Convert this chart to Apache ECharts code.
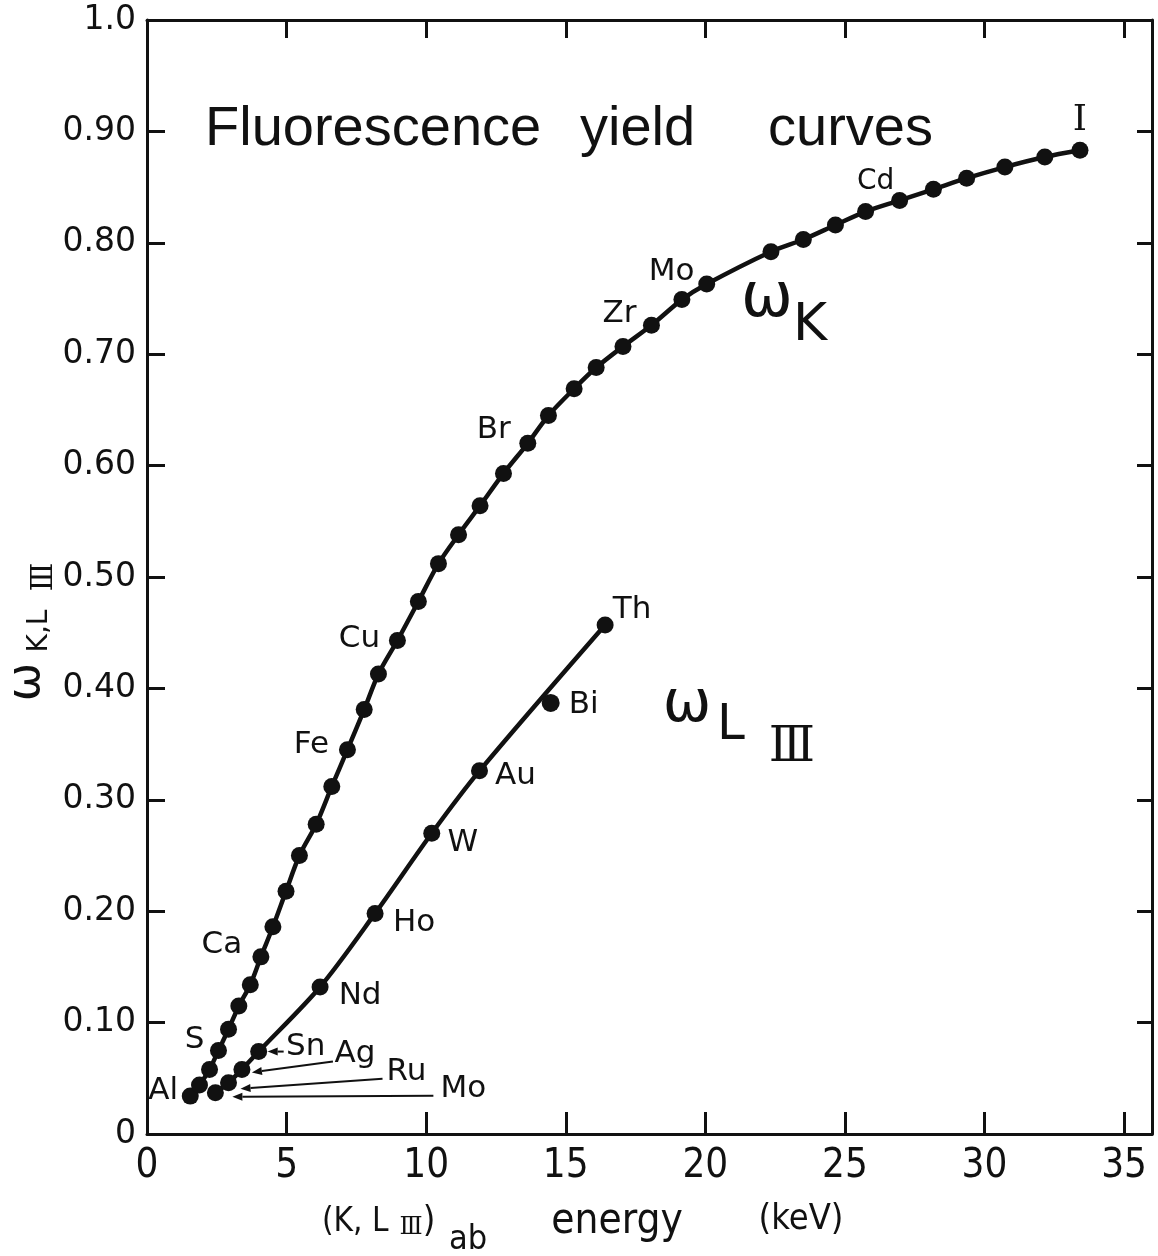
<!DOCTYPE html>
<html>
<head>
<meta charset="utf-8">
<script src="https://cdn.jsdelivr.net/npm/echarts@6/dist/echarts.min.js"></script>
<style>
  html, body { margin: 0; padding: 0; background: #fff; }
  #chart { width: 1158px; height: 1256px; }
</style>
</head>
<body>
<div id="chart"></div>
<script>
// ---------------- DATA ----------------
const xTickLabels = ['0', '5', '10', '15', '20', '25', '30', '35'];
const yTickLabels = ['0', '0.10', '0.20', '0.30', '0.40', '0.50', '0.60', '0.70', '0.80', '0.90', '1.0'];

// K-shell fluorescence yield curve (omega_K)
const kElements = ['Al','Si','P','S','Cl','Ar','K','Ca','Sc','Ti','V','Cr','Mn','Fe','Co','Ni','Cu','Zn','Ga','Ge',
                   'As','Se','Br','Kr','Rb','Sr','Y','Zr','Nb','Mo','Ru','Rh','Pd','Ag','Cd','In','Sn','Sb','Te','I'];
const kEnergy = [1.55, 1.88, 2.24, 2.56, 2.92, 3.29, 3.70, 4.08, 4.51, 4.98, 5.46, 6.06, 6.62, 7.18, 7.78, 8.29, 8.97, 9.72, 10.44, 11.16,
                 11.93, 12.77, 13.64, 14.38, 15.30, 16.09, 17.05, 18.07, 19.16, 20.05, 22.35, 23.51, 24.66, 25.74, 26.96, 28.17, 29.36, 30.73, 32.16, 33.42];
const kYield = [0.034, 0.044, 0.058, 0.075, 0.094, 0.115, 0.134, 0.159, 0.186, 0.218, 0.250, 0.278, 0.312, 0.345, 0.381, 0.413, 0.443, 0.478, 0.512, 0.538,
                0.564, 0.593, 0.620, 0.645, 0.669, 0.688, 0.707, 0.726, 0.749, 0.763, 0.792, 0.803, 0.816, 0.828, 0.838, 0.848, 0.858, 0.868, 0.877, 0.883];
const kLabeled = ['Al', 'S', 'Ca', 'Fe', 'Cu', 'Br', 'Zr', 'Mo', 'Cd', 'I'];

// L_III-shell fluorescence yield curve (omega_L3)
const l3Elements = ['Mo', 'Ru', 'Ag', 'Sn', 'Nd', 'Ho', 'W', 'Au', 'Th'];
const l3Energy = [2.45, 2.92, 3.40, 4.00, 6.20, 8.17, 10.20, 11.91, 16.41];
const l3Yield = [0.037, 0.046, 0.058, 0.074, 0.132, 0.198, 0.270, 0.326, 0.457];
const offCurveElements = ['Bi'];
const offCurveEnergy = [14.46];
const offCurveYield = [0.387];

// ---------------- STYLE (label offsets in pixels, relative to the dot) ----------------
const kLabelOffset = {
  Al: [-27, -5], S: [-24, -10], Ca: [-39, -12], Fe: [-36, -5], Cu: [-38, -2],
  Br: [-34, -13], Zr: [-32, -11], Mo: [-35, -12], Cd: [-24, -19], I: [0, -30]
};
const l3LabelOffset = {
  Mo: [248, -4], Ru: [178, -11], Ag: [113, -15], Sn: [47, -5],
  Nd: [40, 9], Ho: [39, 10], W: [31, 10], Au: [36, 5], Th: [27, -15], Bi: [33, 2]
};
// arrows for the crowded low-energy L_III points: [tipDx, tipDy, tailDx, tailDy] relative to the dot
const l3Arrows = {
  Sn: [9, 0, 25, 0], Ag: [10, 3, 91, -8], Ru: [12, 6, 154, -4], Mo: [17, 4, 218, 3]
};

const SANS = "'DejaVu Sans', 'Liberation Sans', sans-serif";
const TITLE = "'Liberation Sans', 'DejaVu Sans', sans-serif";
const NARROW = "'Liberation Sans Narrow', 'DejaVu Sans Condensed', 'Liberation Sans', sans-serif";
const SERIF = "'DejaVu Serif', 'Liberation Serif', serif";
const INK = '#111';

function labelFor(name, offsets) {
  const off = offsets[name];
  if (!off) return undefined;
  return {
    show: true, formatter: name, position: 'inside', offset: off,
    color: INK, fontSize: name === 'I' ? 36 : (name === 'Cd' ? 28 : 31),
    fontFamily: name === 'I' ? SERIF : SANS, align: 'center', verticalAlign: 'middle'
  };
}

const kData = kEnergy.map((x, i) => {
  const name = kElements[i];
  const item = { value: [x, kYield[i]], name };
  if (kLabeled.includes(name)) item.label = labelFor(name, kLabelOffset);
  return item;
});
const l3Data = l3Energy.map((x, i) => {
  const name = l3Elements[i];
  return { value: [x, l3Yield[i]], name, label: labelFor(name, l3LabelOffset) };
});
const offData = offCurveEnergy.map((x, i) => {
  const name = offCurveElements[i];
  return { value: [x, offCurveYield[i]], name, label: labelFor(name, l3LabelOffset) };
});

const axisLineStyle = { color: INK, width: 3 };

const option = {
  animation: false,
  backgroundColor: '#fff',
  grid: { left: 147, right: 6, top: 20, bottom: 122 },
  xAxis: [
    {
      type: 'value', min: 0, max: 36, interval: 5, position: 'bottom',
      axisLine: { show: true, onZero: false, lineStyle: axisLineStyle },
      axisTick: { show: true, inside: true, length: 22, lineStyle: { color: INK, width: 3 } },
      splitLine: { show: false },
      axisLabel: {
        color: INK, fontFamily: NARROW, fontSize: 40, margin: 13,
        formatter: v => { const i = v / 5; return (Number.isInteger(i) && i < xTickLabels.length) ? xTickLabels[i] : ''; }
      }
    },
    {
      type: 'value', min: 0, max: 36, interval: 5, position: 'top',
      axisLine: { show: true, onZero: false, lineStyle: axisLineStyle },
      axisTick: { show: true, inside: true, length: 18, lineStyle: { color: INK, width: 3 } },
      splitLine: { show: false }, axisLabel: { show: false }
    }
  ],
  yAxis: [
    {
      type: 'value', min: 0, max: 1, interval: 0.1, position: 'left',
      axisLine: { show: true, onZero: false, lineStyle: axisLineStyle },
      axisTick: { show: true, inside: true, length: 18, lineStyle: { color: INK, width: 3 } },
      splitLine: { show: false },
      axisLabel: {
        color: INK, fontFamily: SANS, fontSize: 33, margin: 11,
        formatter: v => yTickLabels[Math.round(v * 10)] || ''
      }
    },
    {
      type: 'value', min: 0, max: 1, interval: 0.1, position: 'right',
      axisLine: { show: true, onZero: false, lineStyle: axisLineStyle },
      axisTick: { show: true, inside: true, length: 15, lineStyle: { color: INK, width: 3 } },
      splitLine: { show: false }, axisLabel: { show: false }
    }
  ],
  series: [
    {
      name: 'omegaK', type: 'line', data: kData, smooth: 0.3,
      symbol: 'circle', symbolSize: 17, showAllSymbol: true,
      lineStyle: { color: INK, width: 4.5 }, itemStyle: { color: INK, opacity: 1 },
      label: { show: false }, z: 3
    },
    {
      name: 'omegaL3', type: 'line', data: l3Data, smooth: 0.3,
      symbol: 'circle', symbolSize: 17, showAllSymbol: true,
      lineStyle: { color: INK, width: 4.5 }, itemStyle: { color: INK, opacity: 1 }, z: 3
    },
    {
      name: 'offCurve', type: 'scatter', data: offData,
      symbol: 'circle', symbolSize: 18, itemStyle: { color: INK, opacity: 1 }, z: 3
    }
  ]
};

const chart = echarts.init(document.getElementById('chart'), null, { renderer: 'canvas' });
chart.setOption(option);

// ---------------- annotations (text + arrows) ----------------
function txt(text, x, y, size, family, extra) {
  return Object.assign({
    type: 'text', x, y, silent: true,
    style: { text, fill: INK, font: size + 'px ' + family, align: 'center', verticalAlign: 'middle' }
  }, extra || {});
}
function ltxt(text, x, y, size, family) {
  return { type: 'text', x, y, silent: true, style: { text, fill: INK, font: size + 'px ' + family, align: 'left', verticalAlign: 'middle' } };
}

const graphics = [
  // title
  ltxt('Fluorescence', 205, 130, 56, TITLE),
  ltxt('yield', 580, 130, 56, TITLE),
  ltxt('curves', 768, 130, 56, TITLE),
  // omega_K
  txt('ω', 767, 300, 62, SANS),
  txt('K', 810, 326, 52, SANS),
  // omega_L III
  txt('ω', 687, 706, 58, SANS),
  txt('L', 731, 726, 50, SANS),
  txt('Ⅲ', 792, 749, 48, SERIF),
  // x-axis title
  ltxt('(K, L', 322, 1222, 33, NARROW),
  txt('Ⅲ', 411, 1228, 24, SERIF),
  txt(')', 429, 1222, 36, NARROW),
  txt('ab', 468, 1240, 34, NARROW),
  txt('energy', 617, 1222, 42, NARROW),
  txt('(keV)', 801, 1220, 36, NARROW),
  // y-axis title (rotated)
  txt('ω', 27, 682, 46, SANS, { rotation: Math.PI / 2 }),
  txt('K,L', 40, 631, 28, SANS, { rotation: Math.PI / 2 }),
  txt('Ⅲ', 44, 577, 30, SERIF, { rotation: Math.PI / 2 })
];

// arrows pointing at the crowded L_III dots
l3Elements.forEach((name, i) => {
  const a = l3Arrows[name];
  if (!a) return;
  const p = chart.convertToPixel({ gridIndex: 0 }, [l3Energy[i], l3Yield[i]]);
  const tip = [p[0] + a[0], p[1] + a[1]];
  const tail = [p[0] + a[2], p[1] + a[3]];
  const dx = tip[0] - tail[0], dy = tip[1] - tail[1];
  const len = Math.hypot(dx, dy) || 1;
  const ux = dx / len, uy = dy / len;
  const hl = 10, hw = 4;
  const base = [tip[0] - ux * hl, tip[1] - uy * hl];
  graphics.push({
    type: 'line', silent: true, z: 10,
    shape: { x1: tail[0], y1: tail[1], x2: base[0], y2: base[1] },
    style: { stroke: INK, lineWidth: 2 }
  });
  graphics.push({
    type: 'polygon', silent: true, z: 10,
    shape: { points: [tip, [base[0] - uy * hw, base[1] + ux * hw], [base[0] + uy * hw, base[1] - ux * hw]] },
    style: { fill: INK }
  });
});

chart.setOption({ graphic: graphics });
</script>
</body>
</html>
